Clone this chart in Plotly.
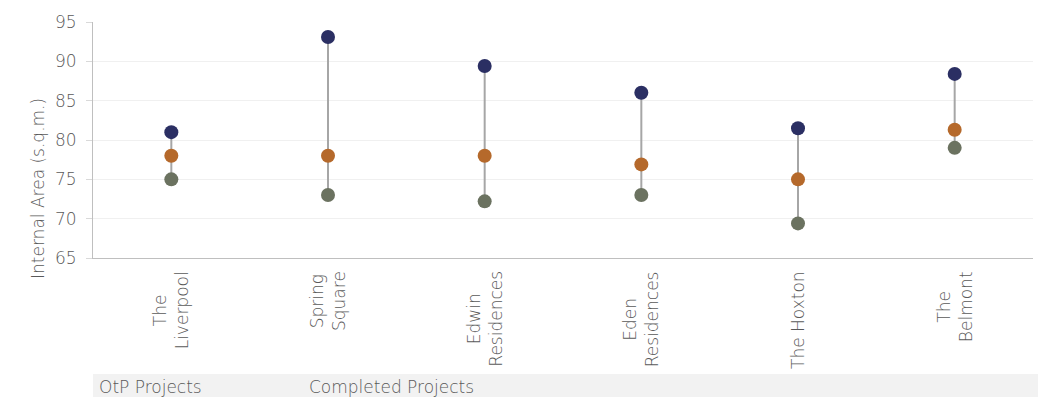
import plotly.graph_objects as go

categories = ["The<br>Liverpool", "Spring<br>Square", "Edwin<br>Residences",
              "Eden<br>Residences", "The Hoxton", "The<br>Belmont"]
high_vals = [81, 93.1, 89.4, 86, 81.5, 88.4]
mid_vals = [78, 78, 78, 76.9, 75, 81.3]
low_vals = [75, 73, 72.2, 73, 69.4, 79]
y_ticks = [65, 70, 75, 80, 85, 90, 95]
group_labels = ["OtP Projects", "Completed Projects"]
y_title = "Internal Area (s.q.m.)"

FONT = "DejaVu Sans"
TXT = "#595959"
PW, PH = 940, 236      # plot area in px
L, T = 93, 22          # plot area origin on the page

def px_x(x):
    return (x - L) / PW

def px_y(y):
    return (T + PH - y) / PH

fig = go.Figure()

lx, ly = [], []
for c, lo, hi in zip(categories, low_vals, high_vals):
    lx += [c, c, None]
    ly += [lo, hi, None]
fig.add_trace(go.Scatter(x=lx, y=ly, mode="lines",
                         line=dict(color="#A6A6A6", width=2),
                         hoverinfo="skip", showlegend=False))

for vals, col in [(low_vals, "#6B7260"), (mid_vals, "#B5692B"), (high_vals, "#2B2F63")]:
    fig.add_trace(go.Scatter(x=categories, y=vals, mode="markers",
                             marker=dict(color=col, size=14, line=dict(width=0)),
                             showlegend=False))

# category labels (lines centred on each other, as in the original)
for c in categories:
    fig.add_annotation(x=c, xref="x", yref="paper", y=px_y(269),
                       text=c, textangle=-90, showarrow=False,
                       xanchor="center", yanchor="top", align="center",
                       font=dict(family=FONT, size=17, color=TXT, weight=200))

# group band
fig.add_shape(type="rect", xref="paper", yref="paper",
              x0=px_x(93), x1=px_x(1038), y0=px_y(397), y1=px_y(374),
              fillcolor="#F2F2F2", line=dict(width=0), layer="below")
for lbl, xp in zip(group_labels, [100, 310]):
    fig.add_annotation(xref="paper", yref="paper", x=px_x(xp), y=px_y(387),
                       text=lbl, showarrow=False, xanchor="left", yanchor="middle",
                       xshift=-3,
                       font=dict(family=FONT, size=17, color=TXT, weight=200))

# y-axis title
fig.add_annotation(xref="paper", yref="paper", x=px_x(38), y=px_y(189),
                   text=y_title, textangle=-90, showarrow=False,
                   xanchor="center", yanchor="middle",
                   font=dict(family=FONT, size=17, color=TXT, weight=200))

fig.update_layout(
    width=1063, height=414,
    margin=dict(l=93, r=30, t=22, b=156),
    plot_bgcolor="white", paper_bgcolor="white",
    font=dict(family=FONT, color=TXT),
    xaxis=dict(type="category", showgrid=False, showticklabels=False,
               showline=True, linecolor="#BFBFBF", linewidth=1,
               ticks="", range=[-0.5, 5.5]),
    yaxis=dict(range=[65, 95], tickvals=y_ticks, showgrid=True, gridcolor="#F0F0F0",
               showline=True, linecolor="#BFBFBF", linewidth=1, zeroline=False,
               ticks="outside", ticklen=6, tickcolor="#D9D9D9",
               ticklabelstandoff=6,
               tickfont=dict(family=FONT, size=17, color=TXT, weight=200)),
)

fig.write_html("out.html", config={"displayModeBar": False},
               post_script="document.body.style.margin='0';")
